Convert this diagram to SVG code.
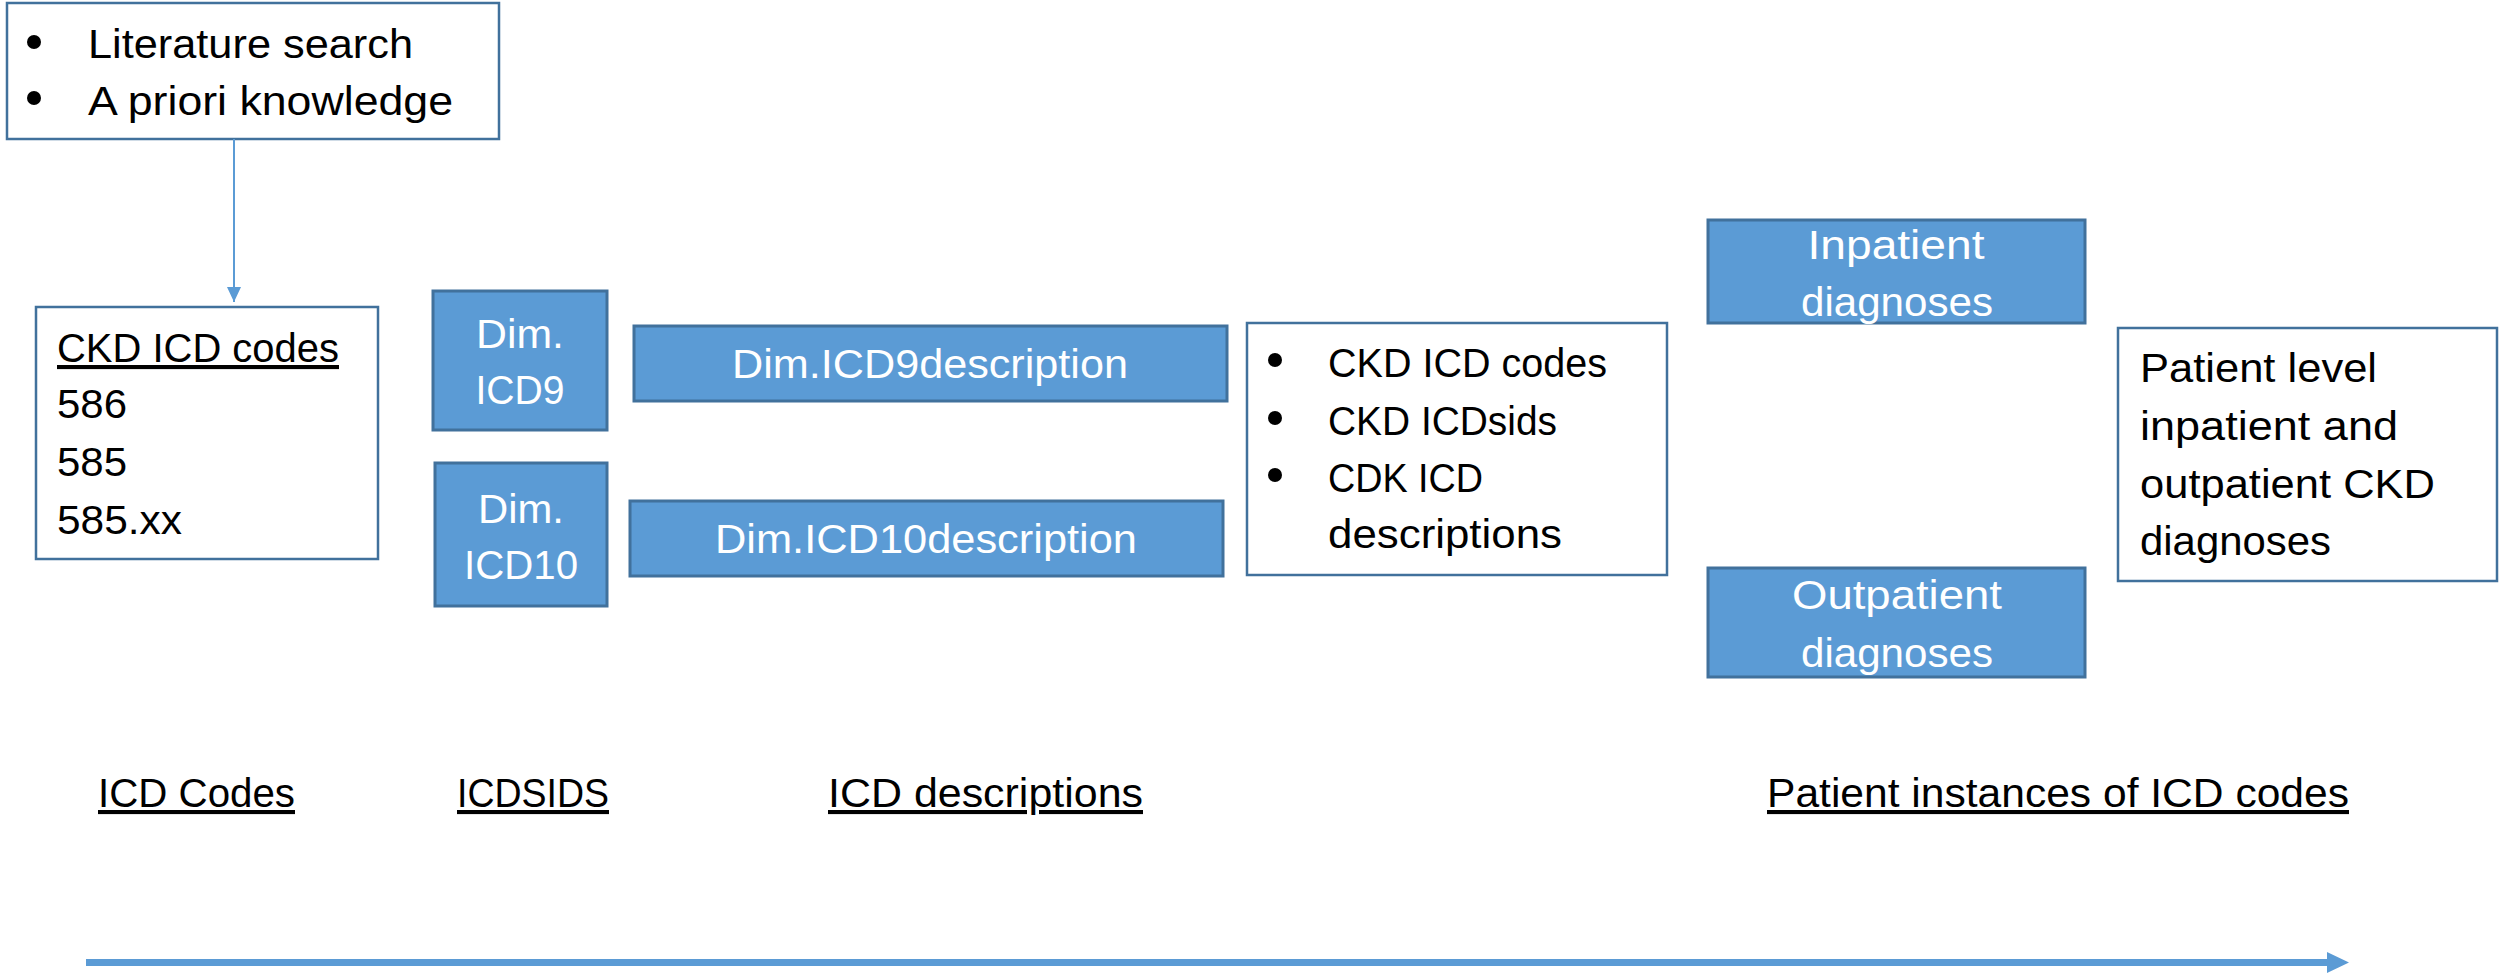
<svg xmlns="http://www.w3.org/2000/svg" width="2499" height="975" viewBox="0 0 2499 975">
<style>
.t{font-family:"Liberation Sans",Arial,sans-serif;font-size:41px;fill:#000}
.w{fill:#fff}
.m{text-anchor:middle}
.u{text-decoration:underline}
.box{fill:#fff;stroke:#41719C;stroke-width:2.5}
.blue{fill:#5B9BD5;stroke:#41719C;stroke-width:3}
.bul{fill:#000}
.conn{stroke:#5B9BD5;stroke-width:2;fill:none}
</style>
<defs>
<marker id="ah" markerUnits="userSpaceOnUse" markerWidth="15" markerHeight="14" viewBox="0 0 15 14" refX="15" refY="7" orient="auto">
<path d="M0,0 L15,7 L0,14 Z" fill="#5B9BD5"/>
</marker>
</defs>
<rect width="2499" height="975" fill="#fff"/>

<g id="sources">
<rect class="box" x="7" y="3" width="492" height="136"/>
<circle class="bul" cx="34" cy="42" r="7"/>
<circle class="bul" cx="34" cy="98" r="7"/>
<text class="t" x="88" y="58" textLength="325" lengthAdjust="spacingAndGlyphs">Literature search</text>
<text class="t" x="88" y="115" textLength="365" lengthAdjust="spacingAndGlyphs">A priori knowledge</text>
</g>

<g id="ckd-codes">
<rect class="box" x="36" y="307" width="342" height="252"/>
<text class="t u" x="57" y="362" textLength="282" lengthAdjust="spacingAndGlyphs">CKD ICD codes</text>
<text class="t" x="57" y="418" textLength="70" lengthAdjust="spacingAndGlyphs">586</text>
<text class="t" x="57" y="476" textLength="70" lengthAdjust="spacingAndGlyphs">585</text>
<text class="t" x="57" y="534" textLength="125" lengthAdjust="spacingAndGlyphs">585.xx</text>
</g>

<g id="dim-icd9">
<rect class="blue" x="433" y="291" width="174" height="139"/>
<text class="t w m" x="520" y="348" textLength="88" lengthAdjust="spacingAndGlyphs">Dim.</text>
<text class="t w m" x="520" y="404" textLength="89" lengthAdjust="spacingAndGlyphs">ICD9</text>
</g>

<g id="dim-icd10">
<rect class="blue" x="435" y="463" width="172" height="143"/>
<text class="t w m" x="521" y="523" textLength="86" lengthAdjust="spacingAndGlyphs">Dim.</text>
<text class="t w m" x="521" y="579" textLength="114" lengthAdjust="spacingAndGlyphs">ICD10</text>
</g>

<g id="icd9-desc">
<rect class="blue" x="634" y="326" width="593" height="75"/>
<text class="t w m" x="930" y="378" textLength="396" lengthAdjust="spacingAndGlyphs">Dim.ICD9description</text>
</g>

<g id="icd10-desc">
<rect class="blue" x="630" y="501" width="593" height="75"/>
<text class="t w m" x="926" y="553" textLength="422" lengthAdjust="spacingAndGlyphs">Dim.ICD10description</text>
</g>

<g id="ckd-summary">
<rect class="box" x="1247" y="323" width="420" height="252"/>
<circle class="bul" cx="1275" cy="360" r="7"/>
<circle class="bul" cx="1275" cy="418" r="7"/>
<circle class="bul" cx="1275" cy="475" r="7"/>
<text class="t" x="1328" y="377" textLength="279" lengthAdjust="spacingAndGlyphs">CKD ICD codes</text>
<text class="t" x="1328" y="435" textLength="229" lengthAdjust="spacingAndGlyphs">CKD ICDsids</text>
<text class="t" x="1328" y="492" textLength="155" lengthAdjust="spacingAndGlyphs">CDK ICD</text>
<text class="t" x="1328" y="548" textLength="234" lengthAdjust="spacingAndGlyphs">descriptions</text>
</g>

<g id="inpatient">
<rect class="blue" x="1708" y="220" width="377" height="103"/>
<text class="t w m" x="1896" y="259" textLength="177" lengthAdjust="spacingAndGlyphs">Inpatient</text>
<text class="t w m" x="1897" y="316" textLength="192" lengthAdjust="spacingAndGlyphs">diagnoses</text>
</g>

<g id="outpatient">
<rect class="blue" x="1708" y="568" width="377" height="109"/>
<text class="t w m" x="1897" y="609" textLength="210" lengthAdjust="spacingAndGlyphs">Outpatient</text>
<text class="t w m" x="1897" y="667" textLength="192" lengthAdjust="spacingAndGlyphs">diagnoses</text>
</g>

<g id="patient-level">
<rect class="box" x="2118" y="328" width="379" height="253"/>
<text class="t" x="2140" y="382" textLength="237" lengthAdjust="spacingAndGlyphs">Patient level</text>
<text class="t" x="2140" y="440" textLength="258" lengthAdjust="spacingAndGlyphs">inpatient and</text>
<text class="t" x="2140" y="498" textLength="295" lengthAdjust="spacingAndGlyphs">outpatient CKD</text>
<text class="t" x="2140" y="555" textLength="191" lengthAdjust="spacingAndGlyphs">diagnoses</text>
</g>

<g id="stage-labels">
<text class="t u" x="98" y="807" textLength="197" lengthAdjust="spacingAndGlyphs">ICD Codes</text>
<text class="t u" x="457" y="807" textLength="152" lengthAdjust="spacingAndGlyphs">ICDSIDS</text>
<text class="t u" x="828" y="807" textLength="315" lengthAdjust="spacingAndGlyphs">ICD descriptions</text>
<text class="t u" x="1767" y="807" textLength="582" lengthAdjust="spacingAndGlyphs">Patient instances of ICD codes</text>
</g>

<g id="connectors">
<line class="conn" x1="234" y1="139" x2="234" y2="302" marker-end="url(#ah)"/>
<path d="M86,959 H2327 V952 L2349,962.5 L2327,973 V966 H86 Z" fill="#5B9BD5"/>
</g>
</svg>
